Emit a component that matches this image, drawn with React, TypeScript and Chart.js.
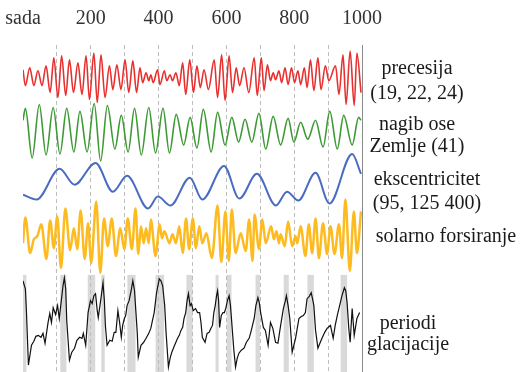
import React, { useEffect, useRef } from "react";
import { Chart, registerables } from "chart.js";

Chart.register(...registerables);

// time axis (thousands of years before present)
const axisTicks = [0, 200, 400, 600, 800, 1000];
const axisTickLabels = ["sada", "200", "400", "600", "800", "1000"];

// [kyr, relative value]
const precession: [number, number][] = [
  [0, 8], [7, -8], [20, 10], [32, -8], [44, 7], [56, -8], [68, 12], [80, -15], [91, 20], [103, -20],
  [114, 22], [126, -18], [137, 18], [149, -15], [162, 15], [174, -17], [186, 22], [196, -22], [209, 25], [219, -25],
  [230, 23], [242, -20], [255, 12], [265, -12], [277, 13], [289, -12], [301, 18], [312, -15], [324, 17], [335, -15],
  [345, 10], [353, -5], [363, 5], [371, -3], [377, 3], [384, -5], [397, 8], [404, -7], [417, 7], [424, -3],
  [434, 3], [441, -3], [451, 5], [461, -8], [471, 15], [480, -17], [492, 18], [503, -15], [513, 12], [523, -10],
  [534, 8], [547, -12], [564, 18], [574, -20], [586, 23], [596, -23], [608, 22], [618, -15], [629, 10], [639, -8],
  [652, 10], [666, -15], [682, 20], [691, -18], [703, 20], [711, -13], [721, 13], [730, -3], [738, 5], [745, -2],
  [755, 7], [763, -5], [773, 10], [782, -7], [792, 10], [801, -5], [811, 7], [819, -7], [830, 10], [838, -10],
  [848, 18], [858, -13], [870, 20], [879, -12], [892, 12], [902, -3], [922, 12], [932, -17], [944, 23], [953, -27],
  [965, 27], [977, -28], [985, 25], [997, -15],
];

const obliquity: [number, number][] = [
  [0, 10], [7, 22], [27, -28], [48, 26], [68, -25], [89, 23], [109, -24], [129, 22], [150, -22], [168, 19],
  [189, -22], [210, 27], [229, -31], [249, 25], [271, -19], [290, 15], [310, -22], [329, 22], [349, -25], [371, 23],
  [391, -23], [413, 22], [432, -23], [452, 16], [474, -15], [493, 13], [513, -18], [532, 21], [555, -22], [574, 18],
  [596, -15], [616, 13], [636, -12], [655, 11], [675, -12], [696, 17], [716, -19], [738, 14], [760, -15], [782, 12],
  [799, -12], [819, 8], [840, -9], [863, 10], [885, -17], [905, 19], [927, -19], [946, 15], [971, -15], [990, 13],
  [997, 10],
];

const eccentricity: [number, number][] = [
  [0, -8], [40, -13], [108, 18], [152, 2], [214, 24], [265, -5], [307, 11], [369, -22], [398, -10], [435, -19],
  [492, 9], [529, -13], [593, 21], [638, -12], [690, 13], [746, -19], [779, -5], [812, -14], [863, 14], [904, -17],
  [971, 33], [997, 13],
];

const solarForcing: [number, number][] = [
  [0, -5], [7, 21], [21, -15], [32, -1], [42, 2], [54, 14], [69, -21], [80, 18], [91, -10], [101, 22],
  [112, -30], [125, 30], [139, -12], [150, 10], [160, -11], [170, 28], [182, -21], [192, 15], [201, -25], [216, 37],
  [228, -35], [239, 20], [250, -8], [262, 20], [274, -18], [287, 10], [299, -11], [309, 20], [321, -11], [332, 30],
  [340, -16], [348, 12], [356, -5], [363, 10], [371, -5], [377, 19], [391, -18], [403, 14], [410, 0], [417, 7],
  [432, -5], [441, 4], [451, -5], [461, 12], [471, -15], [481, 20], [490, -11], [501, 20], [510, -10], [520, 12],
  [529, -5], [541, 5], [557, -20], [574, 33], [585, -24], [597, 27], [607, -23], [616, 29], [627, -15], [642, 5],
  [657, -13], [667, 19], [677, -23], [683, 24], [696, -11], [706, 19], [716, -5], [732, 12], [740, -1], [748, 7],
  [755, -5], [760, 4], [772, -8], [782, 17], [794, -8], [804, 2], [809, -5], [819, 12], [833, -18], [843, 14],
  [853, -15], [863, 20], [873, -20], [885, 15], [897, -16], [907, 12], [919, -16], [932, 14], [941, -20], [951, 39],
  [964, -33], [976, 27], [985, -15], [997, 27],
];

const glaciation: [number, number][] = [
  [0, 41], [7, 33], [10, 11], [16, -44], [25, -24], [32, -20], [38, -15], [45, -14], [53, -16], [59, -12],
  [65, -22], [74, -1], [79, 8], [84, -1], [89, 14], [96, 7], [102, 16], [107, 3], [113, 21], [118, 36],
  [122, 44], [126, 33], [129, 1], [137, -39], [144, -31], [152, -27], [159, -19], [167, -16], [174, -17], [178, -12],
  [185, -24], [192, 9], [199, 21], [204, 18], [209, 26], [214, 28], [219, 11], [222, 4], [227, 16], [231, 26],
  [236, 39], [240, 21], [243, -4], [248, -24], [256, -19], [263, -20], [269, -11], [274, -11], [280, 11], [285, -1],
  [290, -16], [294, -4], [299, 3], [303, 6], [307, 16], [313, 21], [319, 31], [324, 41], [329, 31], [337, -11],
  [340, -36], [348, -24], [356, -21], [363, -17], [371, -12], [377, -7], [382, 1], [387, 9], [394, 29], [402, 43],
  [407, 41], [412, 36], [418, 16], [422, -11], [429, -46], [434, -37], [439, -31], [446, -25], [451, -21], [456, -17],
  [461, -14], [466, -9], [471, -6], [475, 3], [480, 9], [484, 21], [488, 28], [493, 16], [497, 18], [502, 11],
  [509, 13], [515, 9], [521, 9], [525, -1], [529, -16], [537, -21], [543, -12], [549, -11], [554, -7], [559, -4],
  [563, 9], [567, 16], [571, 26], [574, 31], [577, 21], [580, -6], [585, 6], [590, 9], [594, 9], [598, 13],
  [603, 21], [608, 26], [612, 16], [618, -11], [622, -29], [627, -46], [632, -37], [637, -32], [644, -29], [652, -27],
  [659, -21], [667, -17], [672, -11], [677, -4], [682, 3], [687, 16], [693, 24], [697, 19], [701, 9], [709, -6],
  [715, -9], [723, -24], [730, -1], [737, -7], [745, -21], [752, -22], [760, -4], [768, 13], [774, 21], [777, 26],
  [782, 16], [787, 3], [794, -31], [799, -24], [804, -17], [809, -7], [814, 3], [821, 5], [827, 6], [833, 9],
  [838, 23], [844, 25], [850, 29], [854, 23], [858, 16], [863, -9], [870, -27], [877, -21], [882, -17], [890, -11],
  [897, -7], [907, -4], [915, -17], [921, -4], [927, 6], [934, 16], [941, 26], [948, 34], [952, 31], [956, 19],
  [961, -7], [965, -21], [971, 13], [977, -14], [985, 3], [993, 9],
];

// interglacial bands [start kyr, end kyr]
const glaciationBands: [number, number][] = [
  [0, 10], [110, 128], [191, 213], [231, 241], [308, 332], [391, 416], [482, 500],
  [568, 577], [601, 615], [686, 699], [769, 784], [839, 858], [937, 956],
];

const seriesLabels = [
  "precesija", "(19, 22, 24)", "nagib ose", "Zemlje (41)", "ekscentricitet",
  "(95, 125 400)", "solarno forsiranje", "periodi", "glacijacije",
];

const SERIF = "'Liberation Serif', 'Times New Roman', serif";

export default function App() {
  const ref = useRef<HTMLCanvasElement>(null);

  useEffect(() => {
    const canvas = ref.current;
    if (!canvas) return;
    const pts = (a: [number, number][]) => a.map(([x, y]) => ({ x, y }));

    const decor = {
      id: "decor",
      beforeDraw(chart: any) {
        const { ctx, chartArea, scales } = chart;
        const xs = scales.x;
        const top = scales.yGlac.getPixelForValue(47);
        ctx.save();
        ctx.fillStyle = "#d9d9d9";
        for (const [a, b] of glaciationBands) {
          const x0 = xs.getPixelForValue(a);
          const x1 = xs.getPixelForValue(b);
          ctx.fillRect(x0, top, x1 - x0, chartArea.bottom - top);
        }
        ctx.restore();
      },
      afterDraw(chart: any) {
        const { ctx, chartArea, scales } = chart;
        const x = Math.round(scales.x.getPixelForValue(1000)) + 0.5;
        ctx.save();
        ctx.strokeStyle = "#8a8a8a";
        ctx.lineWidth = 1;
        ctx.beginPath();
        ctx.moveTo(x, chartArea.top);
        ctx.lineTo(x, chartArea.bottom);
        ctx.stroke();
        ctx.restore();
      },
    };

    const yAxis = (min: number, max: number) => ({
      type: "linear" as const,
      display: false,
      min,
      max,
    });

    const smooth = { pointRadius: 0, cubicInterpolationMode: "monotone" as const, fill: false };

    const chart = new Chart(canvas, {
      type: "line",
      data: {
        datasets: [
          { ...smooth, label: "precesija", data: pts(precession), borderColor: "#e8302f", borderWidth: 1.6, yAxisID: "yPrec" },
          { ...smooth, label: "nagib ose", data: pts(obliquity), borderColor: "#3d9a34", borderWidth: 1.6, yAxisID: "yObl" },
          { ...smooth, label: "ekscentricitet", data: pts(eccentricity), borderColor: "#4a6cc0", borderWidth: 2, yAxisID: "yEcc" },
          { ...smooth, label: "solarno forsiranje", data: pts(solarForcing), borderColor: "#fdbb20", borderWidth: 2.5, yAxisID: "ySol" },
          { pointRadius: 0, tension: 0, fill: false, label: "periodi glacijacije", data: pts(glaciation), borderColor: "#111111", borderWidth: 1.2, yAxisID: "yGlac" },
        ] as any,
      },
      options: {
        animation: false,
        responsive: false,
        events: [],
        layout: { padding: { left: 23, right: 159, top: 4, bottom: 0 } },
        plugins: { legend: { display: false }, tooltip: { enabled: false } },
        scales: {
          x: {
            type: "linear",
            position: "top",
            min: 0,
            max: 1000,
            grid: {
              drawTicks: true,
              tickLength: 11,
              tickColor: "rgba(0,0,0,0)",
              color: (c: any) =>
                c.tick && (c.tick.value === 0 || c.tick.value === 1000) ? "rgba(0,0,0,0)" : "#bdbdbd",
              lineWidth: 1,
            },
            border: { display: false, dash: [4, 3] },
            ticks: {
              stepSize: 100,
              autoSkip: false,
              maxRotation: 0,
              padding: 3,
              color: "#333333",
              font: { family: SERIF, size: 20 },
              callback: (v: any) => {
                const i = axisTicks.indexOf(Number(v));
                return i >= 0 ? axisTickLabels[i] : "";
              },
            },
          },
          yPrec: yAxis(-297, 33),
          yObl: yAxis(-244, 86),
          yEcc: yAxis(-187, 143),
          ySol: yAxis(-135, 195),
          yGlac: yAxis(-51, 279),
        } as any,
      },
      plugins: [decor],
    });
    return () => chart.destroy();
  }, []);

  const label = (text: string, cx: number, cy: number) => (
    <div
      key={text}
      style={{
        position: "absolute",
        left: cx,
        top: cy,
        transform: "translate(-50%, -50%)",
        whiteSpace: "nowrap",
        fontFamily: SERIF,
        fontSize: 20,
        lineHeight: "24px",
        color: "#1a1a1a",
      }}
    >
      {text}
    </div>
  );

  const pos: [number, number][] = [
    [417, 67], [417, 92], [417, 123], [417, 145], [427, 178],
    [427, 202], [446, 235], [408, 322], [408, 343],
  ];

  return (
    <div style={{ position: "fixed", left: 0, top: 0, width: 521, height: 372, background: "#fff", overflow: "hidden" }}>
      <canvas ref={ref} width={521} height={372} style={{ display: "block" }} />
      {seriesLabels.map((t, i) => label(t, pos[i][0], pos[i][1]))}
    </div>
  );
}
